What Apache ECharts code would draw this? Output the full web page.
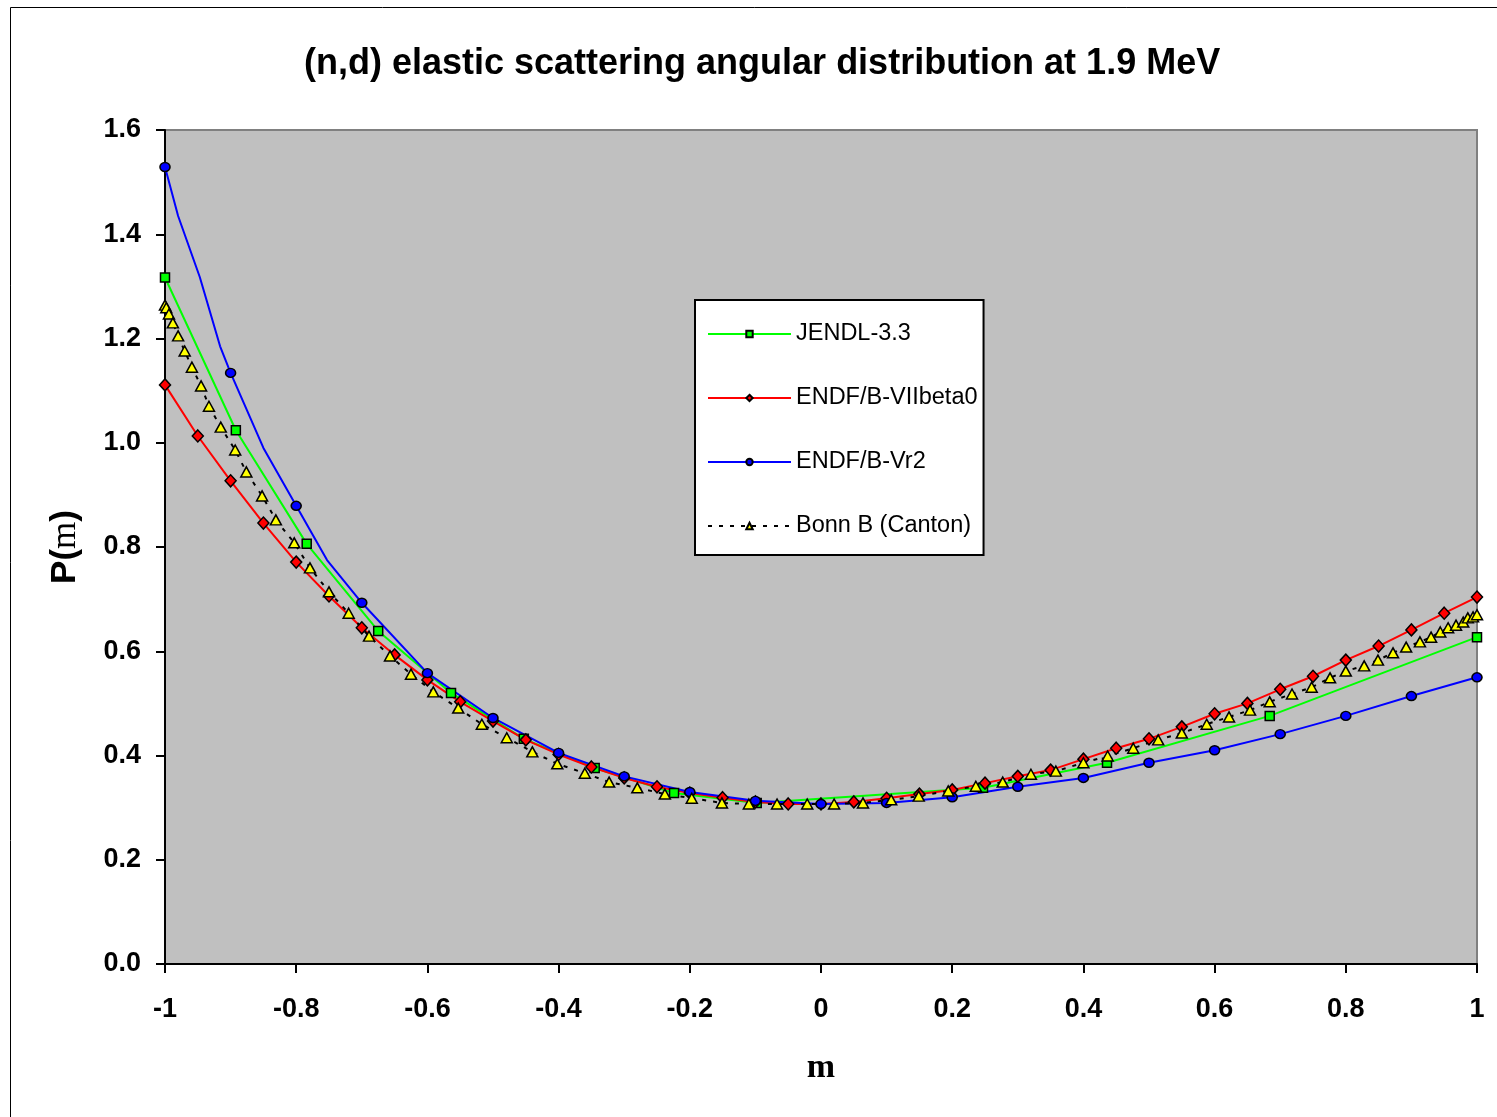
<!DOCTYPE html>
<html>
<head>
<meta charset="utf-8">
<script src="https://cdn.jsdelivr.net/npm/echarts@6/dist/echarts.min.js"></script>
<style>
html,body{margin:0;padding:0;background:#fff;}
#chart{width:1497px;height:1117px;}
</style>
</head>
<body>
<div id="chart"></div>
<script>
// JENDL-3.3
var jendlX = [-1, -0.892, -0.784, -0.675, -0.564, -0.453, -0.345, -0.224, -0.098, 0.247, 0.436, 0.684, 1.0];
var jendlY = [1.317, 1.024, 0.806, 0.639, 0.52, 0.432, 0.376, 0.328, 0.309, 0.338, 0.386, 0.476, 0.627];

// ENDF/B-VIIbeta0
var endf7X = [-1, -0.95, -0.9, -0.85, -0.8, -0.75, -0.7, -0.65, -0.6, -0.55, -0.5, -0.45, -0.4, -0.35, -0.3, -0.25, -0.2, -0.15, -0.1, -0.05,
              0, 0.05, 0.1, 0.15, 0.2, 0.25, 0.3, 0.35, 0.4, 0.45, 0.5, 0.55, 0.6, 0.65, 0.7, 0.75, 0.8, 0.85, 0.9, 0.95, 1.0];
var endf7Y = [1.111, 1.013, 0.927, 0.846, 0.771, 0.706, 0.645, 0.593, 0.545, 0.503, 0.466, 0.43, 0.402, 0.378, 0.357, 0.34, 0.328, 0.319, 0.311, 0.307,
              0.307, 0.311, 0.318, 0.326, 0.334, 0.347, 0.36, 0.372, 0.393, 0.414, 0.432, 0.455, 0.48, 0.5, 0.527, 0.552, 0.583, 0.61, 0.641, 0.673, 0.704];

// ENDF/B-Vr2 (markers only on the 0.1 grid)
var endf5X = [-1, -0.98, -0.947, -0.916, -0.9, -0.85, -0.8, -0.753, -0.7, -0.6, -0.5, -0.4, -0.3, -0.2, -0.1,
              0, 0.1, 0.2, 0.3, 0.4, 0.5, 0.6, 0.7, 0.8, 0.9, 1.0];
var endf5Y = [1.529, 1.435, 1.318, 1.185, 1.134, 0.99, 0.879, 0.775, 0.693, 0.558, 0.472, 0.405, 0.36, 0.33, 0.313,
              0.307, 0.309, 0.32, 0.34, 0.357, 0.386, 0.41, 0.441, 0.476, 0.514, 0.55];

// Bonn B (Canton)
var bonnX = [-1.0, -0.998, -0.994, -0.988, -0.98, -0.97, -0.959, -0.945, -0.933, -0.915, -0.893, -0.876, -0.852, -0.831, -0.803, -0.779,
             -0.75, -0.72, -0.689, -0.657, -0.625, -0.591, -0.553, -0.517, -0.479, -0.44, -0.402, -0.36, -0.323, -0.28, -0.238, -0.197,
             -0.151, -0.11, -0.067, -0.021, 0.02, 0.064, 0.107, 0.149, 0.194, 0.236, 0.277, 0.32, 0.358, 0.4, 0.437, 0.476, 0.514, 0.55,
             0.588, 0.622, 0.654, 0.684, 0.718, 0.748, 0.776, 0.8, 0.828, 0.849, 0.872, 0.892, 0.913, 0.93, 0.944, 0.956, 0.968, 0.979,
             0.986, 0.994, 1.0];
var bonnY = [1.264, 1.259, 1.247, 1.23, 1.205, 1.176, 1.145, 1.109, 1.07, 1.03, 0.986, 0.944, 0.898, 0.852, 0.808, 0.76,
             0.714, 0.673, 0.629, 0.591, 0.556, 0.522, 0.491, 0.46, 0.434, 0.407, 0.384, 0.366, 0.349, 0.338, 0.326, 0.318,
             0.309, 0.307, 0.307, 0.307, 0.307, 0.309, 0.315, 0.322, 0.332, 0.341, 0.349, 0.364, 0.37, 0.386, 0.399, 0.414, 0.43, 0.443,
             0.46, 0.474, 0.487, 0.503, 0.518, 0.531, 0.549, 0.562, 0.572, 0.583, 0.597, 0.608, 0.618, 0.627, 0.637, 0.645, 0.65, 0.656,
             0.664, 0.666, 0.67];

var seriesNames = ['JENDL-3.3', 'ENDF/B-VIIbeta0', 'ENDF/B-Vr2', 'Bonn B (Canton)'];

function pairs(xs, ys) {
    var out = [];
    for (var i = 0; i < xs.length; i++) {
        out.push([xs[i], ys[i]]);
    }
    return out;
}

// only points on the 0.1 grid carry a marker for ENDF/B-Vr2
function gridMarked(xs, ys) {
    var out = [];
    for (var i = 0; i < xs.length; i++) {
        var onGrid = Math.abs(xs[i] * 10 - Math.round(xs[i] * 10)) < 1e-6;
        out.push(onGrid ? [xs[i], ys[i]] : {value: [xs[i], ys[i]], symbol: 'none'});
    }
    return out;
}

var myChart = echarts.init(document.getElementById('chart'));

option = {
    animation: false,
    backgroundColor: '#fff',
    title: {
        text: '(n,d) elastic scattering angular distribution at 1.9 MeV',
        left: 299,
        top: 41,
        textStyle: {fontFamily: 'Liberation Sans', fontWeight: 'bold', fontSize: 36, color: '#000'}
    },
    graphic: [{
        type: 'rect',
        shape: {x: 10.5, y: 7.5, width: 1600, height: 1200},
        style: {fill: 'none', stroke: '#000', lineWidth: 1},
        silent: true
    }],
    grid: {
        left: 165, top: 130, right: 20, bottom: 153,
        show: true,
        backgroundColor: '#C0C0C0',
        borderColor: '#808080',
        borderWidth: 2
    },
    legend: {
        orient: 'vertical',
        left: 695, top: 300,
        backgroundColor: '#fff',
        borderColor: '#000',
        borderWidth: 2,
        padding: [22, 6, 17, 12],
        itemWidth: 83,
        itemHeight: 8,
        itemGap: 40,
        itemTextGap: 7,
        textStyle: {fontFamily: 'Liberation Sans', fontSize: 23.5, color: '#000'},
        data: seriesNames
    },
    xAxis: {
        type: 'value',
        min: -1, max: 1, interval: 0.2,
        name: 'm',
        nameLocation: 'middle',
        nameGap: 87,
        nameTextStyle: {fontFamily: 'Liberation Serif', fontWeight: 'bold', fontSize: 34, color: '#000'},
        splitLine: {show: false},
        axisLine: {onZero: false, lineStyle: {color: '#000', width: 2}},
        axisTick: {length: 9, lineStyle: {color: '#000', width: 2}},
        axisLabel: {
            margin: 32,
            fontFamily: 'Liberation Sans', fontWeight: 'bold', fontSize: 27, color: '#000',
            formatter: function (v) { return String(Math.round(v * 10) / 10); }
        }
    },
    yAxis: {
        type: 'value',
        min: 0, max: 1.6, interval: 0.2,
        name: '{a|P(}{b|m}{a|)}',
        nameLocation: 'middle',
        nameGap: 82,
        nameTextStyle: {
            rich: {
                a: {fontFamily: 'Liberation Sans', fontWeight: 'bold', fontSize: 35, color: '#000'},
                b: {fontFamily: 'Liberation Serif', fontSize: 35, color: '#000'}
            }
        },
        splitLine: {show: false},
        axisLine: {onZero: false, lineStyle: {color: '#000', width: 2}},
        axisTick: {length: 9, lineStyle: {color: '#000', width: 2}},
        axisLabel: {
            margin: 24,
            fontFamily: 'Liberation Sans', fontWeight: 'bold', fontSize: 27, color: '#000',
            formatter: function (v) { return v.toFixed(1); }
        }
    },
    series: [
        {
            name: seriesNames[0],
            type: 'line',
            data: pairs(jendlX, jendlY),
            symbol: 'rect',
            symbolSize: 9,
            itemStyle: {color: '#00FF00', borderColor: '#000', borderWidth: 1.5},
            lineStyle: {color: '#00FF00', width: 2}
        },
        {
            name: seriesNames[1],
            type: 'line',
            data: pairs(endf7X, endf7Y),
            symbol: 'diamond',
            symbolSize: [11, 12],
            itemStyle: {color: '#FF0000', borderColor: '#000', borderWidth: 1.5},
            lineStyle: {color: '#FF0000', width: 2}
        },
        {
            name: seriesNames[2],
            type: 'line',
            data: gridMarked(endf5X, endf5Y),
            symbol: 'circle',
            symbolSize: [10, 9],
            itemStyle: {color: '#0000FF', borderColor: '#000', borderWidth: 1.5},
            lineStyle: {color: '#0000FF', width: 2}
        },
        {
            name: seriesNames[3],
            type: 'line',
            data: pairs(bonnX, bonnY),
            symbol: 'triangle',
            symbolSize: [11, 10],
            itemStyle: {color: '#FFFF00', borderColor: '#000', borderWidth: 1.5},
            lineStyle: {color: '#000', width: 2, type: [4, 7]}
        }
    ]
};
myChart.setOption(option);
</script>
</body>
</html>
